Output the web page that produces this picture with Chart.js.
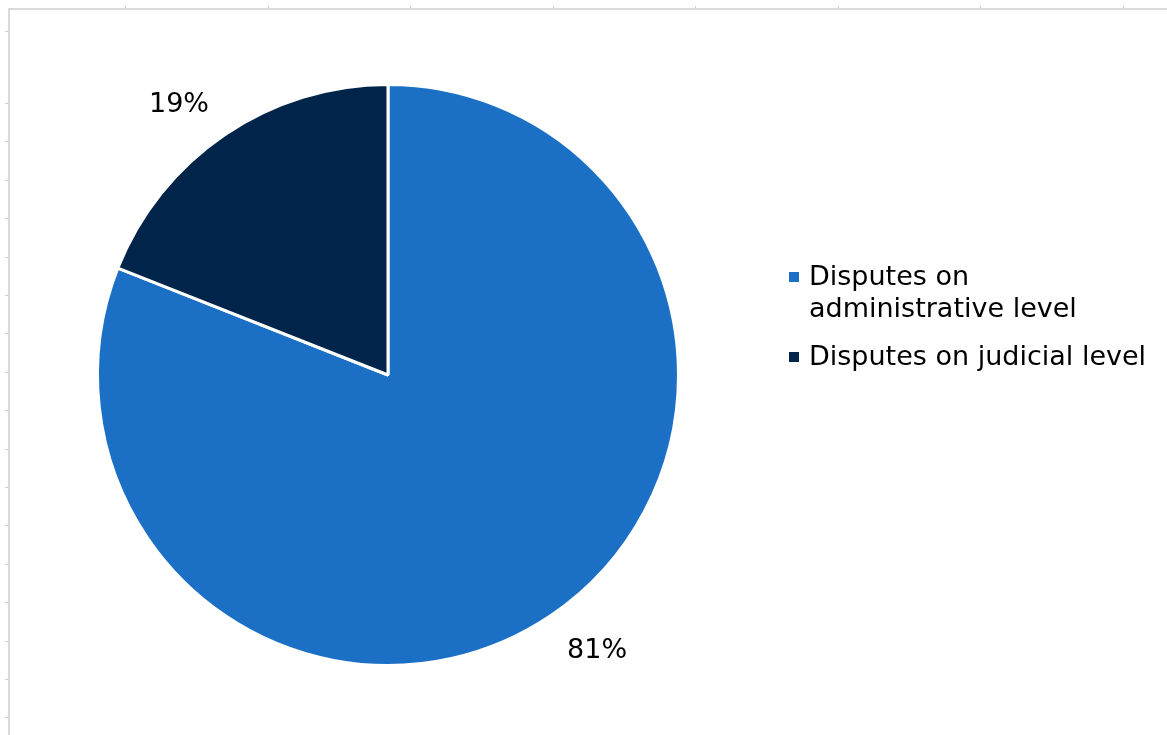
<!DOCTYPE html>
<html>
<head>
<meta charset="utf-8">
<script src="https://cdn.jsdelivr.net/npm/chart.js@4.4.1/dist/chart.umd.min.js"></script>
<style>
  html, body { margin: 0; padding: 0; background: #fff; }
  #wrap { position: relative; width: 1167px; height: 735px; }
</style>
</head>
<body>
<div id="wrap"><canvas id="chart" width="1167" height="735"></canvas></div>
<script>
// Datos
const categories = ['Disputes on administrative level', 'Disputes on judicial level'];
const shares = [81, 19];
const sliceColors = ['#1b70c6', '#00244a'];

const FONT = '"DejaVu Sans", Verdana, sans-serif';
const FONT_SIZE = 27;

// Marco gris de la hoja (decorativo)
const sheetFrame = {
    id: 'sheetFrame',
    beforeDraw(chart) {
        const ctx = chart.ctx;
        ctx.save();
        ctx.fillStyle = '#dadada';
        ctx.fillRect(8, 8, chart.width - 8, 2);
        ctx.fillRect(8, 8, 2, chart.height - 8);
        ctx.fillStyle = '#cfcfcf';
        for (let x = 125; x < chart.width; x += 142.5) {
            ctx.fillRect(Math.round(x), 6, 1, 2);
        }
        ctx.fillRect(5, 31, 3, 1);
        for (let y = 103; y < chart.height; y += 38.4) {
            ctx.fillRect(5, Math.round(y), 3, 1);
        }
        ctx.restore();
    }
};

// Etiquetas de porcentaje fuera del sector
const sliceLabels = {
    id: 'sliceLabels',
    afterDatasetsDraw(chart) {
        const ctx = chart.ctx;
        const meta = chart.getDatasetMeta(0);
        const data = chart.data.datasets[0].data;
        const total = data.reduce((a, b) => a + b, 0);
        ctx.save();
        ctx.font = FONT_SIZE + 'px ' + FONT;
        ctx.fillStyle = '#000';
        meta.data.forEach((arc, i) => {
            const p = arc.getProps(['x', 'y', 'startAngle', 'endAngle', 'outerRadius'], true);
            const mid = (p.startAngle + p.endAngle) / 2;
            const r = p.outerRadius + 28;
            const px = p.x + Math.cos(mid) * r;
            const py = p.y + Math.sin(mid) * r;
            ctx.textAlign = Math.cos(mid) < 0 ? 'right' : 'left';
            ctx.textBaseline = 'alphabetic';
            const by = Math.sin(mid) < 0 ? py : py + FONT_SIZE * 0.73;
            ctx.fillText(Math.round(data[i] / total * 100) + '%', px, by);
        });
        ctx.restore();
    }
};

// Leyenda con texto partido en varias líneas
const wrapLegend = {
    id: 'wrapLegend',
    afterDraw(chart) {
        const ctx = chart.ctx;
        const x0 = 789;
        const textX = 809;
        const maxW = chart.width - textX - 8;
        let baseline = 285;
        ctx.save();
        ctx.font = FONT_SIZE + 'px ' + FONT;
        ctx.fillStyle = '#000';
        ctx.textAlign = 'left';
        ctx.textBaseline = 'alphabetic';
        chart.data.labels.forEach((label, i) => {
            const words = label.split(' ');
            const lines = [];
            let cur = '';
            words.forEach(w => {
                const test = cur ? cur + ' ' + w : w;
                if (ctx.measureText(test).width > maxW && cur) {
                    lines.push(cur);
                    cur = w;
                } else {
                    cur = test;
                }
            });
            lines.push(cur);
            ctx.fillStyle = chart.data.datasets[0].backgroundColor[i];
            ctx.fillRect(x0, baseline - 13, 10, 10);
            ctx.fillStyle = '#000';
            lines.forEach((ln, j) => {
                ctx.fillText(ln, textX, baseline + j * 32);
            });
            baseline += (lines.length - 1) * 32 + 48;
        });
        ctx.restore();
    }
};

new Chart(document.getElementById('chart'), {
    type: 'pie',
    data: {
        labels: categories,
        datasets: [{
            data: shares,
            backgroundColor: sliceColors,
            borderColor: '#ffffff',
            borderWidth: 3
        }]
    },
    options: {
        responsive: false,
        animation: false,
        layout: {
            padding: { left: 96, right: 487, top: 83, bottom: 68 }
        },
        plugins: {
            legend: { display: false },
            tooltip: { enabled: false }
        }
    },
    plugins: [sheetFrame, sliceLabels, wrapLegend]
});
</script>
</body>
</html>
